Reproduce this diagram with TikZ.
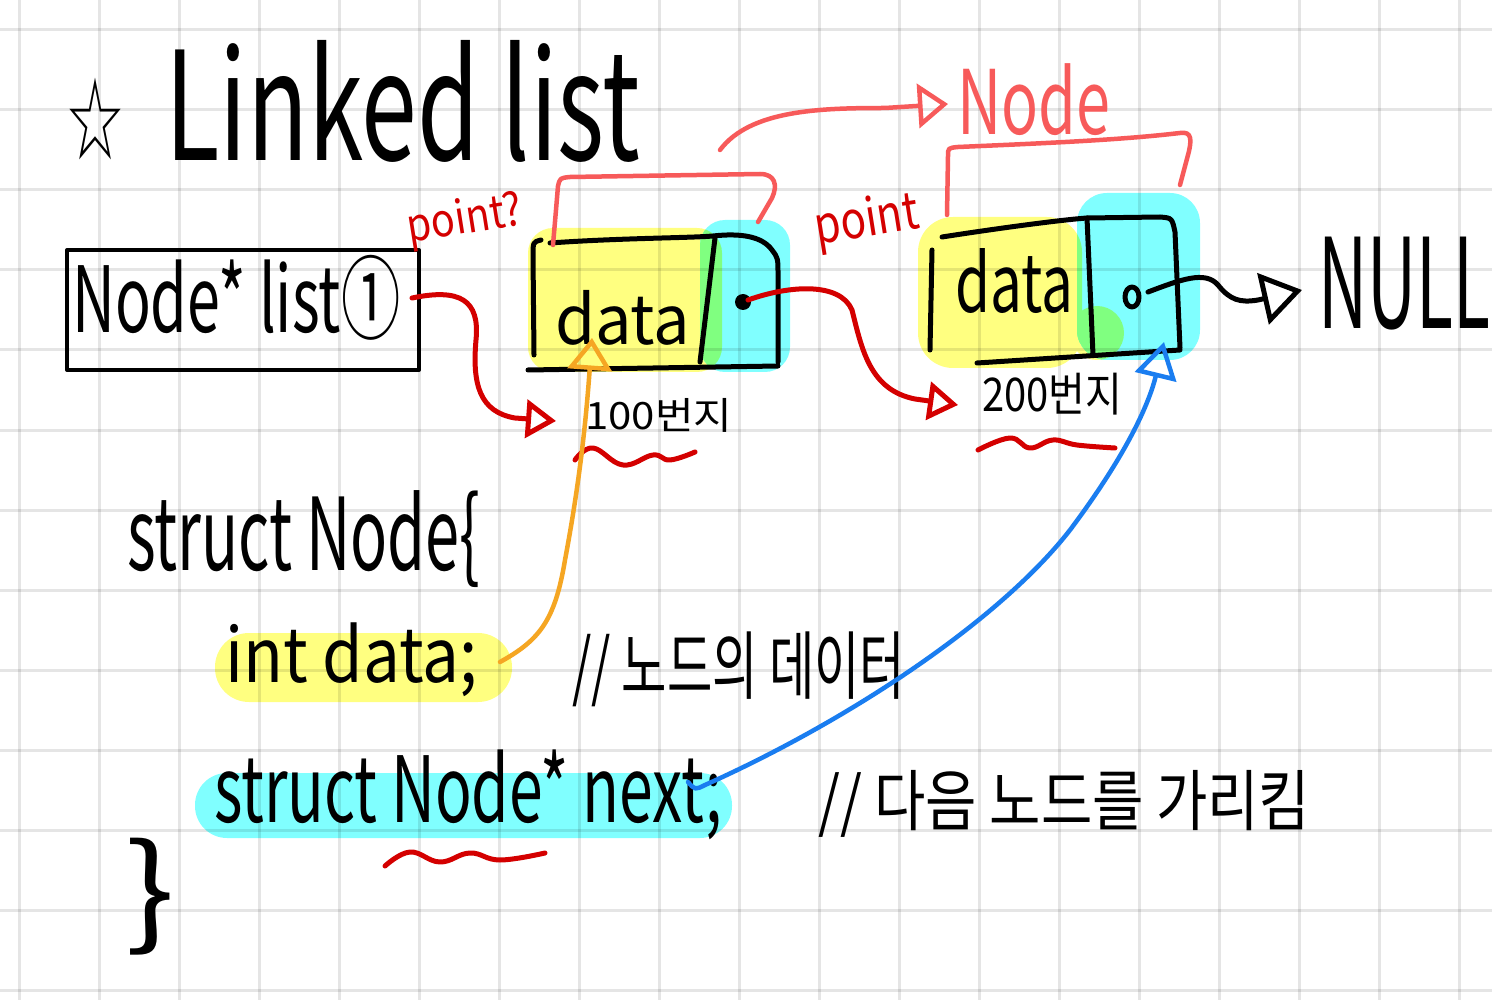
\documentclass[tikz,border=0pt]{standalone}
\usepackage{fontspec}
\setmainfont{Noto Sans CJK KR}
\newfontfamily\symfont{DejaVu Sans}
\usetikzlibrary{arrows.meta}
\definecolor{dred}{HTML}{D40000}
\definecolor{lred}{HTML}{F75A5A}
\definecolor{orng}{HTML}{F5A623}
\definecolor{blu}{HTML}{1A7DF0}
\definecolor{hly}{HTML}{FFFF80}
\definecolor{hlc}{HTML}{80FFFF}
\definecolor{hlg}{HTML}{80FF80}
\newcommand\fitt[3]{\resizebox*{#1pt}{#2pt}{#3}}
\begin{document}
\begin{tikzpicture}[x=1pt,y=-1pt,line cap=round,line join=round,
  ink/.style={line width=5pt,draw=black},
  txt/.style={inner sep=0pt,anchor=north west},
  wave/.style={line width=5pt,draw=dred},
  opentip/.style={-{Triangle[open,length=30pt,width=38pt]}},
  redarrow/.style={line width=5pt,draw=dred,opentip},
  bracket/.style={line width=4.5pt,draw=lred}]
\useasboundingbox (0,0) rectangle (1492,1000);
\fill[white] (0,0) rectangle (1492,1000);
% highlights (opaque)
\fill[hly,rounded corners=25pt] (528,228) rectangle (722,372);
\fill[hlc,rounded corners=25pt] (700,220) rectangle (790,372);
\begin{scope}
  \clip[rounded corners=25pt] (700,220) rectangle (790,372);
  \fill[hlg,rounded corners=25pt] (528,228) rectangle (722,372);
\end{scope}
\fill[hly,rounded corners=35pt] (918,217) rectangle (1082,368);
\fill[hly] (1097,333) circle (27pt);
\fill[hlc,rounded corners=30pt] (1077,193) rectangle (1200,360);
\begin{scope}
  \clip[rounded corners=30pt] (1077,193) rectangle (1200,360);
  \fill[hlg,rounded corners=35pt] (918,217) rectangle (1082,368);
  \fill[hlg] (1097,333) circle (27pt);
\end{scope}
\fill[hly,rounded corners=34pt] (215,633) rectangle (512,702);
\fill[hlc,rounded corners=32pt] (195,773) rectangle (732,838);
% grid (translucent so it darkens the highlights)
\foreach \gx in {19,99,...,1492} {\draw[black,draw opacity=0.1,line width=3pt,line cap=butt] (\gx,0) -- (\gx,1000);}
\foreach \gy in {30,110,...,1000} {\draw[black,draw opacity=0.1,line width=3pt,line cap=butt] (0,\gy) -- (1492,\gy);}
% title
\node[txt] (star) at (65,78) {\fitt{60}{82}{\symfont ☆}};
\node[txt] (title) at (165,40) {\fitt{475}{122}{Linked list}};
% list box
\node[draw,line width=4pt,minimum width=352pt,minimum height=120pt,inner sep=0pt] (listbox) at (243,310) {};
\node[txt] (listtxt) at (72,255) {\fitt{328}{85}{Node* list①}};
% node 1 box
\draw[ink] (541,240) .. controls (533,242) .. (533,256) -- (534,355);
\draw[ink] (550,243) .. controls (620,238) and (690,238) .. (713,236) .. controls (740,233) and (762,236) .. (772,250) .. controls (778,258) .. (778,275) -- (778,362);
\draw[ink] (528,370) -- (778,366);
\draw[ink] (715,238) -- (700,362);
\node[txt] (data1) at (555,290) {\fitt{135}{55}{data}};
\fill[black] (743,302) circle (8pt);
\coordinate (dot1) at (748,300);
% node 2 box
\draw[ink] (932,250) -- (930,350);
\draw[ink] (942,237) .. controls (1000,228) and (1060,220) .. (1087,218) -- (1160,217) .. controls (1172,218) .. (1175,232) -- (1180,348);
\draw[ink] (977,363) -- (1180,350);
\draw[ink] (1087,218) -- (1093,355);
\node[txt] (data2) at (955,248) {\fitt{118}{65}{data}};
\draw[ink] (1132,297) ellipse (7pt and 10pt);
\coordinate (dot2) at (1148,292);
% addresses
\node[txt] (addr1) at (585,398) {\fitt{147}{34}{100번지}};
\node[txt] (addr2) at (982,373) {\fitt{140}{42}{200번지}};
\draw[wave] plot[smooth,tension=0.7] coordinates {(575,460) (593,448) (623,465) (653,455) (670,460) (695,452)};
\draw[wave] plot[smooth,tension=0.7] coordinates {(978,450) (1010,438) (1030,448) (1053,440) (1077,445) (1115,448)};
% point labels
\node[inner sep=0pt,rotate=9,text=dred] (pt1) at (465,221) {\fitt{116}{46}{point?}};
\node[inner sep=0pt,rotate=9,text=dred] (pt2) at (867,222) {\fitt{105}{52}{point}};
% Node label and brackets
\node[txt,text=lred] (nodelbl) at (957,63) {\fitt{153}{72}{Node}};
\draw[bracket] (553,245) .. controls (556,210) .. (558,186) .. controls (560,178) .. (570,177) -- (760,174) .. controls (775,174) and (778,185) .. (772,198) -- (758,222);
\draw[bracket] (947,215) -- (948,156) .. controls (948,148) .. (958,147) .. controls (1050,143) and (1120,140) .. (1180,133) .. controls (1192,131) and (1192,140) .. (1188,155) -- (1180,185);
\coordinate (lstart) at (720,150);
\coordinate (lend) at (948,104);
\draw[line width=4.5pt,draw=lred,-{Triangle[open,length=30pt,width=44pt]}] (lstart) .. controls (750,110) and (820,108) .. (885,108) -- (lend);
% NULL
\node[txt] (null) at (1318,237) {\fitt{172}{93}{NULL}};
\coordinate (nullend) at (1302,290);
\draw[ink,-{Triangle[open,length=40pt,width=52pt]}] (dot2) .. controls (1180,280) and (1205,270) .. (1218,285) .. controls (1230,300) and (1240,303) .. (1258,300) -- (nullend);
% red arrows
\coordinate (l1) at (412,298);
\coordinate (a1) at (556,421);
\draw[redarrow] (l1) .. controls (460,288) and (480,300) .. (476,340) .. controls (472,385) and (480,412) .. (515,418) -- (a1);
\coordinate (a2) at (958,405);
\draw[redarrow] (dot1) .. controls (790,285) and (840,282) .. (852,310) .. controls (862,350) and (870,390) .. (915,399) -- (a2);
% struct
\node[txt] (st1) at (127,490) {\fitt{353}{97}{struct Node\{}};
\node[txt] (st2) at (225,623) {\fitt{252}{74}{int data;}};
\node[txt] (cm1) at (572,632) {\fitt{333}{75}{// 노드의 데이터}};
\node[txt] (st3) at (214,750) {\fitt{508}{90}{struct Node* next;}};
\node[txt] (cm2) at (818,770) {\fitt{492}{67}{// 다음 노드를 가리킴}};
\node[txt] (st4) at (125,838) {\fitt{50}{117}{\}}};
\draw[wave] plot[smooth,tension=0.7] coordinates {(385,866) (410,852) (440,862) (470,853) (500,860) (545,853)};
% orange arrow
\coordinate (o1) at (500,662);
\coordinate (o2) at (592,338);
\draw[line width=4.5pt,draw=orng,-{Triangle[open,length=32pt,width=44pt]}] (o1) .. controls (540,640) and (555,620) .. (565,560) .. controls (580,480) and (586,420) .. (o2);
% blue arrow
\coordinate (b1) at (688,782);
\coordinate (b2) at (1164,342);
\draw[line width=4.5pt,draw=blu,-{Triangle[open,length=36pt,width=42pt]}] (b1) .. controls (695,790) .. (705,785) .. controls (850,720) and (1000,620) .. (1070,530) .. controls (1130,450) and (1150,400) .. (b2);
\end{tikzpicture}
\end{document}
